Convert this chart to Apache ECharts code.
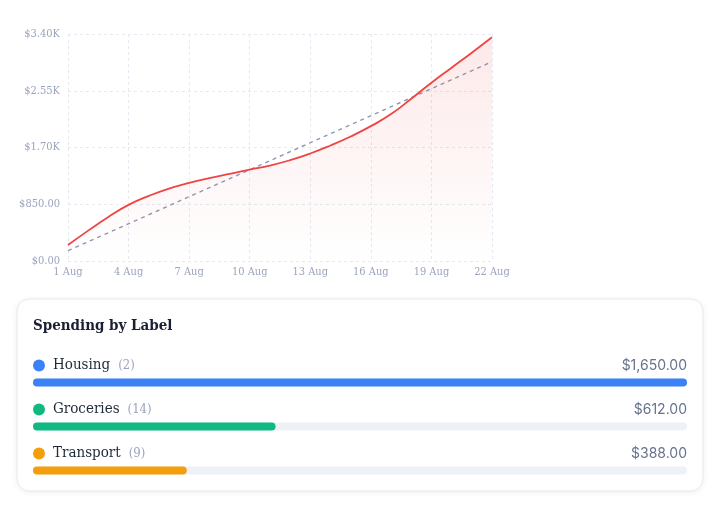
<!DOCTYPE html>
<html><head><meta charset="utf-8">
<script src="https://cdn.jsdelivr.net/npm/echarts@6/dist/echarts.min.js"></script>
<style>html,body{margin:0;padding:0;background:#fff}#c{width:720px;height:510px}</style>
</head><body><div id="c"></div>
<script>
var days = ['1 Aug','2 Aug','3 Aug','4 Aug','5 Aug','6 Aug','7 Aug','8 Aug','9 Aug','10 Aug','11 Aug','12 Aug','13 Aug','14 Aug','15 Aug','16 Aug','17 Aug','18 Aug','19 Aug','20 Aug','21 Aug','22 Aug'];
var cumulative = [240,455,660,840,975,1085,1170,1240,1305,1370,1430,1510,1610,1730,1865,2020,2200,2430,2670,2895,3120,3350];
var trendEnds = [['1 Aug',154],['22 Aug',2985]];
var yTicks = [0,850,1700,2550,3400];
var labelNames = ['Housing','Groceries','Transport'];
var labelCounts = [2,14,9];
var labelAmounts = [1650,612,388];
var labelColors = ['#3b82f6','#10b981','#f59e0b'];

var serif = '"DejaVu Serif Condensed","DejaVu Serif",serif';
var sans = 'Inter,"Noto Sans",sans-serif';
function fmtAxis(v){ return v>=1000 ? '$'+(v/1000).toFixed(2)+'K' : '$'+v.toFixed(2); }
function fmtMoney(v){ return '$'+v.toLocaleString('en-US',{minimumFractionDigits:2,maximumFractionDigits:2}); }
var maxAmt = Math.max.apply(null, labelAmounts);

var chart = echarts.init(document.getElementById('c'), null, {renderer:'canvas'});
chart.setOption({
  animation:false,
  graphic:[
    {type:'rect', z:-10, shape:{x:17,y:299,width:686,height:192,r:12},
     style:{fill:'#fff',stroke:'#e6e9ef',lineWidth:1,shadowBlur:6,shadowOffsetY:1,shadowColor:'rgba(15,23,42,0.07)'}},
    {type:'text', x:33, y:326, style:{text:'Spending by Label', font:'bold 15px '+serif, fill:'#1a2033', verticalAlign:'middle'}}
  ],
  grid:[
    {left:68, right:228, top:34, bottom:249},
    {left:33, width:654, top:360.5, height:132}
  ],
  xAxis:[
    {type:'category', gridIndex:0, data:days, boundaryGap:false,
     axisLine:{show:false}, axisTick:{show:false},
     axisLabel:{interval:2, color:'#9aa5bd', fontSize:11, fontFamily:serif, margin:6},
     splitLine:{show:true, interval:2, lineStyle:{color:'#e6e9f0', type:[3,3]}}},
    {type:'value', gridIndex:1, min:0, max:maxAmt, show:false}
  ],
  yAxis:[
    {type:'value', gridIndex:0, min:0, max:3400, interval:850,
     axisLine:{show:false}, axisTick:{show:false},
     axisLabel:{color:'#9aa5bd', fontSize:11, fontFamily:serif, margin:8, formatter:fmtAxis},
     splitLine:{lineStyle:{color:'#e6e9f0', type:[3,3]}}},
    {type:'category', gridIndex:1, data:labelNames, inverse:true, show:false}
  ],
  series:[
    {type:'line', xAxisIndex:0, yAxisIndex:0, data:cumulative, smooth:0.5, symbol:'none',
     lineStyle:{color:'#ef4444', width:1.8}, z:3,
     areaStyle:{color:new echarts.graphic.LinearGradient(0,0,0,1,[{offset:0,color:'rgba(239,68,68,0.17)'},{offset:1,color:'rgba(239,68,68,0.0)'}])}},
    {type:'line', xAxisIndex:0, yAxisIndex:0, data:trendEnds, symbol:'none',
     lineStyle:{color:'#8f98b3', width:1.4, type:[4,4]}, z:2},
    {type:'bar', xAxisIndex:1, yAxisIndex:1, barWidth:8,
     data:labelAmounts.map(function(){return maxAmt;}),
     itemStyle:{color:'#eef2f7', borderRadius:4},
     label:{show:true, position:['100%',-13], align:'right', verticalAlign:'middle',
       color:'#67728c', fontSize:14, fontFamily:sans,
       formatter:function(p){return fmtMoney(labelAmounts[p.dataIndex]);}}},
    {type:'bar', xAxisIndex:1, yAxisIndex:1, barWidth:8, barGap:'-100%', z:3,
     data:labelAmounts.map(function(v,i){
       return {value:v, itemStyle:{color:labelColors[i], borderRadius:4},
         label:{show:true, position:[0,-13], align:'left', verticalAlign:'middle',
           formatter:'{dot|}{name|'+labelNames[i]+'}{cnt|('+labelCounts[i]+')}',
           rich:{
             dot:{width:12,height:12,borderRadius:6,backgroundColor:labelColors[i]},
             name:{fontFamily:serif,fontSize:15,color:'#1f2937',padding:[0,0,0,8]},
             cnt:{fontFamily:serif,fontSize:13,color:'#9aa5bd',padding:[0,0,0,8]}
           }}};
     })}
  ]
});
</script></body></html>
